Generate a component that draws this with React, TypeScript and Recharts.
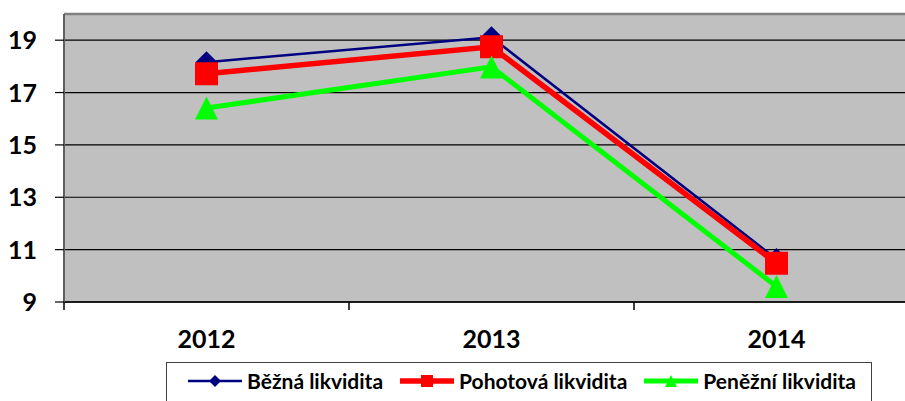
import React from "react";
import {
  LineChart,
  Line,
  XAxis,
  YAxis,
  CartesianGrid,
  Legend,
  ReferenceLine,
} from "recharts";

const years = ["2012", "2013", "2014"];
const bezna = [18.16, 19.11, 10.64];
const pohotova = [17.72, 18.75, 10.48];
const penezni = [16.41, 17.98, 9.59];
const yTicks = [9, 11, 13, 15, 17, 19];

const data = years.map((year, i) => ({
  year,
  bezna: bezna[i],
  pohotova: pohotova[i],
  penezni: penezni[i],
}));

const FONT = "Lato, 'Open Sans', sans-serif";

type Shape = "diamond" | "square" | "triangle";

const series: { key: string; name: string; color: string; width: number; shape: Shape }[] = [
  { key: "bezna", name: "Běžná likvidita", color: "#000080", width: 2.5, shape: "diamond" },
  { key: "pohotova", name: "Pohotová likvidita", color: "#FF0000", width: 5.5, shape: "square" },
  { key: "penezni", name: "Peněžní likvidita", color: "#00FF00", width: 5, shape: "triangle" },
];

function markerPath(shape: Shape, cx: number, cy: number, size: number) {
  const h = size / 2;
  if (shape === "diamond") return `M${cx},${cy - h}L${cx + h},${cy}L${cx},${cy + h}L${cx - h},${cy}Z`;
  if (shape === "square") return `M${cx - h},${cy - h}H${cx + h}V${cy + h}H${cx - h}Z`;
  return `M${cx},${cy - h}L${cx + h},${cy + h}L${cx - h},${cy + h}Z`;
}

const makeDot = (shape: Shape, color: string, size: number) => (props: any) => {
  const { cx, cy, index } = props;
  if (cx == null || cy == null) return <g key={`d-${index}`} />;
  return <path key={`d-${index}`} d={markerPath(shape, cx, cy, size)} fill={color} />;
};

const XTick = (props: any) => {
  const { x, y, payload } = props;
  const off = payload && payload.offset ? payload.offset : 142.5;
  const axisY = y - 18;
  return (
    <g>
      <line x1={x - off} y1={axisY} x2={x - off} y2={axisY + 8} stroke="#000" strokeWidth={1.5} />
      <text
        x={x}
        y={y}
        dy={28}
        textAnchor="middle"
        fontFamily={FONT}
        fontWeight={700}
        fontSize={25}
        fill="#000"
      >
        {payload.value}
      </text>
    </g>
  );
};

const YTick = (props: any) => {
  const { x, y, payload } = props;
  return (
    <text
      x={x}
      y={y}
      dy={9}
      textAnchor="end"
      fontFamily={FONT}
      fontWeight={700}
      fontSize={25}
      fill="#000"
    >
      {payload.value}
    </text>
  );
};

const LegendBox = () => (
  <div style={{ position: "relative", width: 905, height: 50 }}>
    <div
      style={{
        position: "absolute",
        left: 166,
        top: 11,
        width: 706,
        height: 50,
        border: "1.5px solid #404040",
        background: "#fff",
        boxSizing: "border-box",
        display: "flex",
        alignItems: "flex-start",
        paddingTop: 5,
        paddingLeft: 20,
        fontFamily: FONT,
        fontWeight: 700,
        fontSize: 21,
        color: "#000",
        whiteSpace: "nowrap",
      }}
    >
      {series.map((s) => (
        <div
          key={s.key}
          style={{ display: "flex", alignItems: "center", marginRight: 16, flexShrink: 0 }}
        >
          <svg width={56} height={16} style={{ marginRight: 4, flexShrink: 0 }}>
            <line x1={1} y1={8} x2={55} y2={8} stroke={s.color} strokeWidth={s.width} />
            <path d={markerPath(s.shape, 28, 8, 12)} fill={s.color} />
          </svg>
          <span>{s.name}</span>
        </div>
      ))}
    </div>
  </div>
);

export default function App() {
  return (
    <div
      style={{
        position: "fixed",
        left: 0,
        top: 0,
        width: 905,
        height: 401,
        overflow: "hidden",
        background: "#fff",
      }}
    >
      <LineChart
        width={925}
        height={401}
        data={data}
        margin={{ top: 14, right: 6, bottom: 0, left: 0 }}
      >
        <CartesianGrid
          horizontal
          vertical={false}
          stroke="#000"
          strokeWidth={1.2}
          fill="#C0C0C0"
          fillOpacity={1}
        />
        <ReferenceLine y={20} stroke="#808080" strokeWidth={2.5} />
        <XAxis
          dataKey="year"
          scale="band"
          axisLine={{ stroke: "#000", strokeWidth: 1.5 }}
          tickLine={false}
          tickSize={0}
          tickMargin={18}
          height={49}
          tick={<XTick />}
          interval={0}
        />
        <YAxis
          width={64}
          domain={[9, 20]}
          ticks={yTicks}
          allowDataOverflow
          axisLine={{ stroke: "#606060", strokeWidth: 2 }}
          tickLine={{ stroke: "#000", strokeWidth: 1.2 }}
          tickSize={9}
          tickMargin={18}
          tick={<YTick />}
        />
        <Legend
          verticalAlign="bottom"
          content={<LegendBox />}
          wrapperStyle={{ left: 0, width: 905, height: 50 }}
        />
        {series.map((s) => (
          <Line
            key={s.key}
            type="linear"
            dataKey={s.key}
            name={s.name}
            stroke={s.color}
            strokeWidth={s.width}
            dot={makeDot(s.shape, s.color, s.shape === "diamond" ? 22 : 23)}
            activeDot={false}
            isAnimationActive={false}
          />
        ))}
      </LineChart>
    </div>
  );
}
